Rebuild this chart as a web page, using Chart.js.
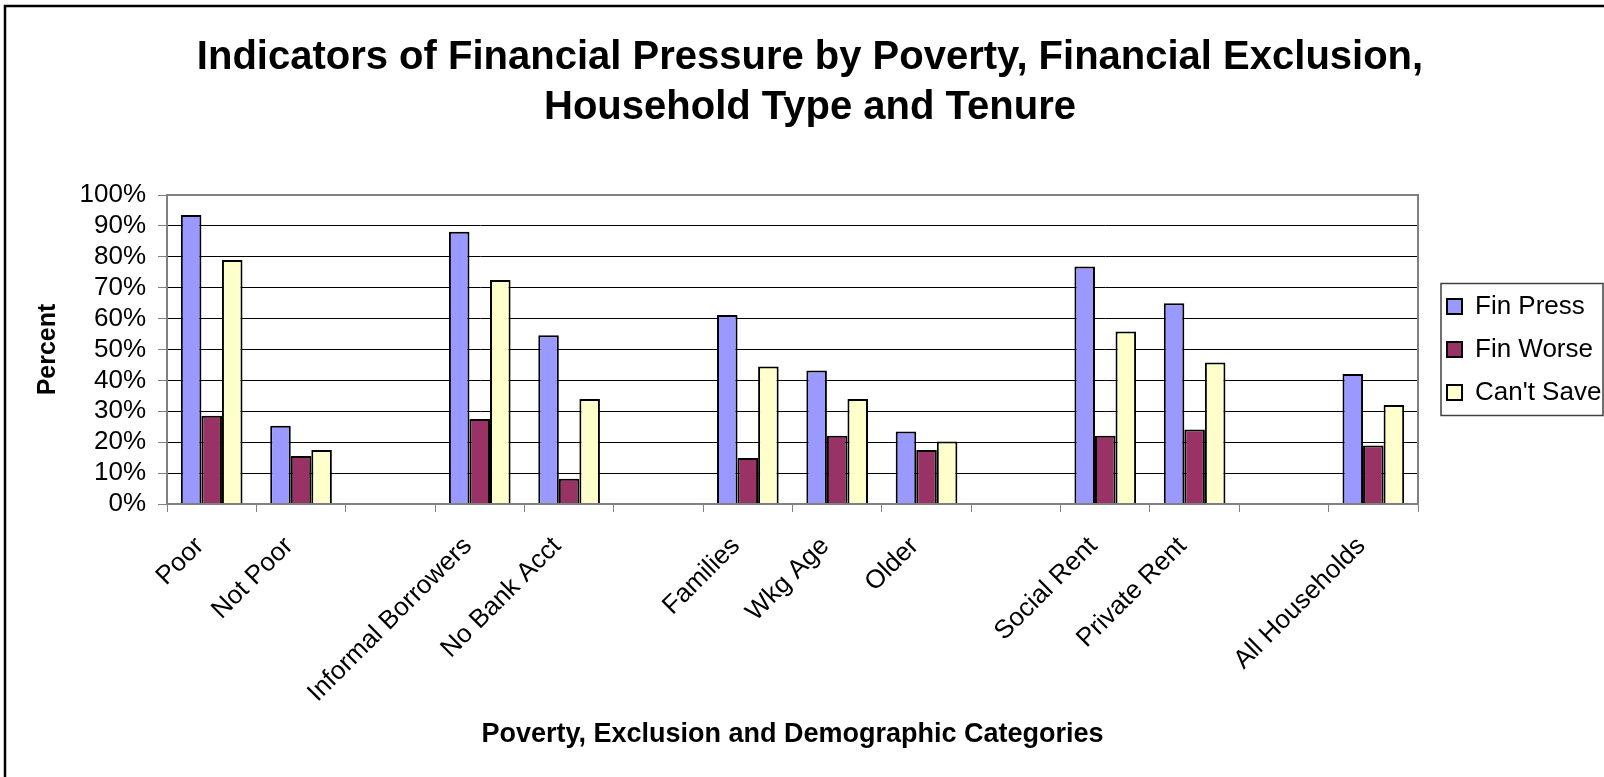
<!DOCTYPE html>
<html><head><meta charset="utf-8">
<script src="https://cdn.jsdelivr.net/npm/chart.js@4"></script>
<style>html,body{margin:0;padding:0;background:#fff;}</style>
</head><body>
<canvas id="c" width="1604" height="777"></canvas>
<script>
const categories = ['Poor','Not Poor','','Informal Borrowers','No Bank Acct','','Families','Wkg Age','Older','','Social Rent','Private Rent','','All Households'];
const finPress = [93.5,25.3,null,88.1,54.6,null,61.2,43.2,23.5,null,76.9,65.0,null,42.1];
const finWorse = [28.6,15.5,null,27.5,8.2,null,14.9,22.1,17.5,null,22.1,24.1,null,18.9];
const cantSave = [79.0,17.5,null,72.5,34.0,null,44.5,34.0,20.2,null,55.8,45.8,null,32.0];
const seriesNames = ['Fin Press','Fin Worse',"Can't Save"];
const seriesColors = ['#9999FF','#993366','#FFFFCC'];
const titleLines = ['Indicators of Financial Pressure by Poverty, Financial Exclusion,','Household Type and Tenure'];
const yTitle = 'Percent';
const xTitle = 'Poverty, Exclusion and Demographic Categories';

const FONT = "'Liberation Sans', Arial, sans-serif";
Chart.defaults.font.family = FONT;
Chart.defaults.color = '#000';

const framePlugin = {
  id: 'framePlugin',
  afterInit(chart) {
    const L = chart.legend;
    const f = L.fit.bind(L);
    L.fit = function () { f(); this.width = 186; };
  },
  afterLayout(chart) {
    chart.legend.left += 12;
    chart.legend.right += 12;
  },
  beforeDraw(chart) {
    const ctx = chart.ctx;
    ctx.save(); ctx.fillStyle = '#fff'; ctx.fillRect(0, 0, chart.width, chart.height); ctx.restore();
  },
  afterDraw(chart) {
    const ctx = chart.ctx, a = chart.chartArea;
    ctx.save();
    ctx.strokeStyle = '#808080'; ctx.lineWidth = 2;
    ctx.strokeRect(a.left, a.top, a.right - a.left, a.bottom - a.top);
    const hb = chart.legend.legendHitBoxes;
    if (hb && hb.length) {
      const x0 = hb[0].left - 6, y0 = hb[0].top - 10;
      const last = hb[hb.length - 1];
      const y1 = last.top + last.height + 10;
      ctx.strokeStyle = '#404040'; ctx.lineWidth = 1.5;
      ctx.strokeRect(x0, y0, 162, y1 - y0);
    }
    ctx.strokeStyle = '#000'; ctx.lineWidth = 2.5;
    ctx.beginPath(); ctx.moveTo(5, chart.height + 5); ctx.lineTo(5, 6); ctx.lineTo(chart.width + 5, 6); ctx.stroke();
    ctx.restore();
  }
};

new Chart(document.getElementById('c'), {
  type: 'bar',
  data: {
    labels: categories,
    datasets: [finPress, finWorse, cantSave].map((d, i) => ({
      label: seriesNames[i], data: d,
      backgroundColor: seriesColors[i], borderColor: '#000', borderWidth: 2,
      categoryPercentage: 0.69, barPercentage: 1.0
    }))
  },
  options: {
    responsive: false, animation: false, devicePixelRatio: 1,
    layout: { padding: { left: 16, right: 0, top: 0, bottom: 0 } },
    scales: {
      x: {
        grid: { drawOnChartArea: false, drawTicks: true, tickLength: 8, color: '#808080', offset: true },
        border: { color: '#808080', width: 2 },
        ticks: { font: { size: 26 }, color: '#000', maxRotation: 45, minRotation: 45, autoSkip: false, labelOffset: -12, padding: 19 },
        title: { display: true, text: xTitle, font: { size: 27, weight: 'bold' }, color: '#000', padding: { bottom: 26 } },
        afterFit(s) { s.height = 273; }
      },
      y: {
        min: 0, max: 100,
        ticks: { stepSize: 10, autoSkip: false, callback: v => v + '%', font: { size: 26 }, color: '#000', padding: 12 },
        grid: { color: c => (c.tick && (c.tick.value === 0 || c.tick.value === 100)) ? '#808080' : '#000', lineWidth: 1, tickLength: 9, tickColor: '#808080' },
        border: { color: '#808080', width: 2 },
        title: { display: true, text: yTitle, font: { size: 25, weight: 'bold' }, color: '#000', padding: { top: 17 } },
        afterFit(s) { s.width = 151; }
      }
    },
    plugins: {
      title: { display: true, text: titleLines, font: { size: 40, weight: 'bold', lineHeight: 1.25 }, color: '#000', padding: { top: 33, bottom: 62 } },
      legend: { position: 'right', fullSize: false, labels: { boxWidth: 15, boxHeight: 15, font: { size: 26 }, color: '#000', padding: 17 } },
      tooltip: { enabled: false }
    }
  },
  plugins: [framePlugin]
});
</script>
</body></html>
